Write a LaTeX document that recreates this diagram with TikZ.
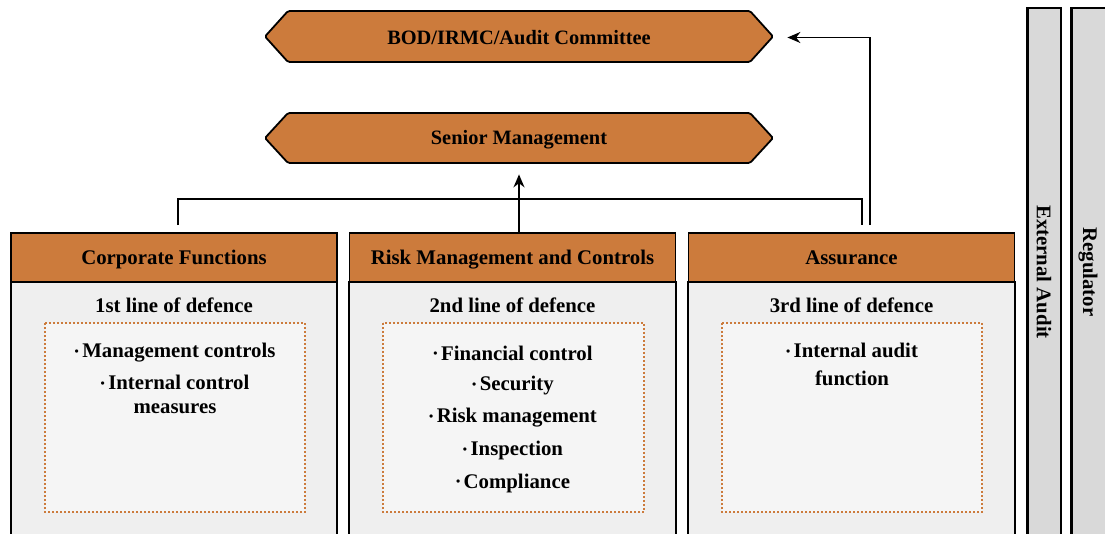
\documentclass[tikz,border=0pt]{standalone}
\usepackage{fontspec}
\setmainfont{Liberation Serif}
\usetikzlibrary{arrows.meta}
\definecolor{orng}{HTML}{CC7B3C}
\definecolor{bodyg}{HTML}{EFEFEF}
\definecolor{innerg}{HTML}{F5F5F5}
\definecolor{barg}{HTML}{D9D9D9}
\newcommand\bul{\raisebox{0.25ex}{\fontsize{6}{6}\selectfont\textbullet}\,}
\tikzset{
  hexshape/.style={fill=orng,draw=black,line width=0.9pt,rounded corners=0.8pt},
  hexlabel/.style={minimum width=254pt,minimum height=25.5pt,inner sep=0pt,font=\bfseries\fontsize{10.2}{12}\selectfont},
  header/.style={fill=orng,draw=black,line width=0.9pt,minimum width=163pt,minimum height=24.5pt,inner sep=0pt,text height=9pt,text depth=1.5pt,font=\bfseries\fontsize{10.4}{12}\selectfont},
  bodybox/.style={fill=bodyg,draw=black,line width=0.9pt},
  innerbox/.style={fill=innerg,draw=orng,line width=0.9pt,dash pattern=on 0.9pt off 1.1pt},
  subtitle/.style={font=\bfseries\fontsize{10.4}{12}\selectfont,inner sep=0pt},
  item/.style={font=\bfseries\fontsize{10.4}{12}\selectfont,inner sep=0pt,align=center},
  bar/.style={fill=barg,draw=black,line width=0.9pt},
  barlabel/.style={rotate=-90,font=\bfseries\fontsize{10.4}{12}\selectfont,inner sep=0pt},
  conn/.style={draw=black,line width=0.75pt},
  arr/.style={conn,-{Stealth[length=6.5pt,width=5.5pt]}}
}
\begin{document}
\begin{tikzpicture}[x=0.5pt,y=-0.5pt]
\useasboundingbox (0,0) rectangle (1105,534);
\clip (0,0) rectangle (1105,534);

% hexagons
\draw[hexshape] (265,36.5) -- (288,11) -- (750,11) -- (773,36.5) -- (750,62) -- (288,62) -- cycle;
\node[hexlabel] (bod) at (519,37.5) {BOD/IRMC/Audit Committee};
\draw[hexshape] (265,138) -- (288,113) -- (750,113) -- (773,138) -- (750,163) -- (288,163) -- cycle;
\node[hexlabel] (sm) at (519,139.5) {Senior Management};

% bodies
\draw[bodybox] (11,282) rectangle (337,545);
\draw[bodybox] (349,282) rectangle (676,545);
\draw[bodybox] (688,282) rectangle (1015,545);

% headers
\node[header] (h1) at (174,257.5) {Corporate Functions};
\node[header] (h2) at (512.5,257.5) {Risk Management and Controls};
\node[header] (h3) at (851.5,257.5) {Assurance};

% subtitles
\node[subtitle] (s1) at (174,305) {1st line of defence};
\node[subtitle] (s2) at (512.5,305) {2nd line of defence};
\node[subtitle] (s3) at (851.5,305) {3rd line of defence};

% inner dotted boxes
\draw[innerbox] (45,323) rectangle (305,512);
\draw[innerbox] (383,323) rectangle (644,512);
\draw[innerbox] (722,323) rectangle (982,512);

% items
\node[item] (a1) at (175,353) {\bul Management controls};
\node[item,anchor=north] (a2) at (175,375) {\bul Internal control\\[0pt] measures};
\node[item] (b1) at (513,353) {\bul Financial control};
\node[item] (b2) at (513,385.5) {\bul Security};
\node[item] (b3) at (513,418) {\bul Risk management};
\node[item] (b4) at (513,450.5) {\bul Inspection};
\node[item] (b5) at (513,483) {\bul Compliance};
\node[item,anchor=north] (c1) at (852,343) {\bul Internal audit\\[2pt] function};

% side bars
\draw[bar] (1027,545) -- (1027,8) -- (1061,8) -- (1061,545);
\draw[bar] (1071,545) -- (1071,8) -- (1108,8) -- (1108,545);
\draw[black,line width=0.6pt] (1028.2,545) -- (1028.2,8.5);
\draw[black,line width=0.6pt] (1072.2,545) -- (1072.2,8.5);
\node[barlabel] (ea) at (1044,272) {External Audit};
\node[barlabel] (rg) at (1088,272) {Regulator};

% connectors
\coordinate (brL) at ([xshift=2pt]h1.north);
\coordinate (brR) at ([xshift=5.25pt]h3.north);
\draw[conn] ([yshift=3.5pt]brL) -- ++(0,-26) -| ([yshift=3.5pt]brR);
\draw[arr,shorten >=4.5pt] (h2.north -| sm.south) -- (sm.south);
\draw[arr,shorten >=7pt] ([xshift=9.25pt,yshift=3.5pt]h3.north) |- (bod.east);
\end{tikzpicture}
\end{document}
